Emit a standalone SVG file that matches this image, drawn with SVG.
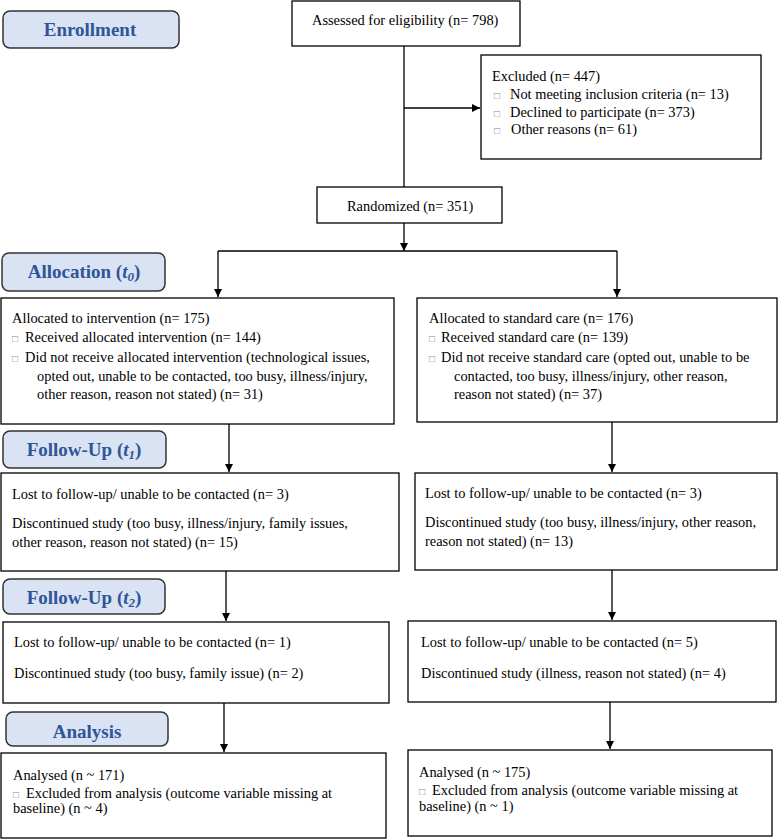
<svg xmlns="http://www.w3.org/2000/svg" width="780" height="839" viewBox="0 0 780 839">
<defs>
<marker id="ah" viewBox="0 0 10 10" refX="10" refY="5" markerWidth="8" markerHeight="8" markerUnits="userSpaceOnUse" orient="auto">
<path d="M0,0 L10,5 L0,10 z" fill="#000"/>
</marker>
<style>
.lab rect{fill:#dae3f3;stroke:#333;stroke-width:1.5}
.lab text{font-family:"Liberation Serif",serif;font-weight:bold;font-size:19px;fill:#2f5597;text-anchor:middle}
.box rect{fill:#fff;stroke:#000;stroke-width:1.3}
.box text{font-family:"Liberation Serif",serif;font-size:14.4px;fill:#000}
.box text.b{font-size:10px;fill:#888}
.conn path{fill:none;stroke:#000;stroke-width:1.3}
</style>
</defs>
<rect width="780" height="839" fill="#fff"/>
<g id="lab-enrollment" class="lab"><rect x="3" y="11" width="176" height="37" rx="7"/><text x="90" y="36">Enrollment</text></g>
<g id="lab-allocation" class="lab"><rect x="2" y="253" width="163" height="38" rx="7"/><text x="84" y="278">Allocation (<tspan font-style="italic">t</tspan><tspan font-style="italic" font-size="13" dy="3">0</tspan><tspan dy="-3">)</tspan></text></g>
<g id="lab-fu1" class="lab"><rect x="3" y="431" width="163" height="37" rx="7"/><text x="84" y="456">Follow-Up (<tspan font-style="italic">t</tspan><tspan font-style="italic" font-size="13" dy="3">1</tspan><tspan dy="-3">)</tspan></text></g>
<g id="lab-fu2" class="lab"><rect x="3" y="579" width="162" height="35" rx="7"/><text x="84" y="604">Follow-Up (<tspan font-style="italic">t</tspan><tspan font-style="italic" font-size="13" dy="3">2</tspan><tspan dy="-3">)</tspan></text></g>
<g id="lab-analysis" class="lab"><rect x="6" y="712" width="162" height="34" rx="7"/><text x="87" y="738">Analysis</text></g>

<g id="assessed" class="box"><rect x="292" y="1" width="228" height="45"/><text x="312" y="25">Assessed for eligibility (n= 798)</text></g>
<g id="excluded" class="box"><rect x="481" y="55" width="280" height="104"/>
<text x="492" y="81">Excluded (n= 447)</text>
<text x="494" y="99" class="b">□</text><text x="510" y="99">Not meeting inclusion criteria (n= 13)</text>
<text x="494" y="117" class="b">□</text><text x="510" y="117">Declined to participate (n= 373)</text>
<text x="494" y="134" class="b">□</text><text x="511" y="134">Other reasons (n= 61)</text>
</g>
<g id="randomized" class="box"><rect x="317" y="187" width="185" height="36"/><text x="347" y="211">Randomized (n= 351)</text></g>

<g id="alloc-left" class="box"><rect x="1" y="298" width="393" height="126"/>
<text x="12" y="323">Allocated to intervention (n= 175)</text>
<text x="12" y="342" class="b">□</text><text x="25" y="342">Received allocated intervention (n= 144)</text>
<text x="12" y="362" class="b">□</text><text x="25" y="362">Did not receive allocated intervention (technological issues,</text>
<text x="37" y="381">opted out, unable to be contacted, too busy, illness/injury,</text>
<text x="37" y="399">other reason, reason not stated) (n= 31)</text>
</g>
<g id="alloc-right" class="box"><rect x="417" y="298" width="360" height="124"/>
<text x="429" y="323">Allocated to standard care (n= 176)</text>
<text x="429" y="342" class="b">□</text><text x="441" y="342">Received standard care (n= 139)</text>
<text x="429" y="362" class="b">□</text><text x="441" y="362">Did not receive standard care (opted out, unable to be</text>
<text x="454" y="381">contacted, too busy, illness/injury, other reason,</text>
<text x="454" y="399">reason not stated) (n= 37)</text>
</g>

<g id="fu1-left" class="box"><rect x="1" y="473" width="398" height="98"/>
<text x="12" y="499">Lost to follow-up/ unable to be contacted (n= 3)</text>
<text x="12" y="528">Discontinued study (too busy, illness/injury, family issues,</text>
<text x="12" y="547">other reason, reason not stated) (n= 15)</text>
</g>
<g id="fu1-right" class="box"><rect x="415" y="473" width="362" height="97"/>
<text x="425" y="498">Lost to follow-up/ unable to be contacted (n= 3)</text>
<text x="425" y="527">Discontinued study (too busy, illness/injury, other reason,</text>
<text x="425" y="546">reason not stated) (n= 13)</text>
</g>

<g id="fu2-left" class="box"><rect x="3" y="622" width="386" height="81"/>
<text x="14" y="647">Lost to follow-up/ unable to be contacted (n= 1)</text>
<text x="14" y="678">Discontinued study (too busy, family issue) (n= 2)</text>
</g>
<g id="fu2-right" class="box"><rect x="408" y="621" width="368" height="81"/>
<text x="421" y="647">Lost to follow-up/ unable to be contacted (n= 5)</text>
<text x="421" y="678">Discontinued study (illness, reason not stated) (n= 4)</text>
</g>

<g id="an-left" class="box"><rect x="1" y="753" width="385" height="85"/>
<text x="13" y="780">Analysed (n ~ 171)</text>
<text x="13" y="798" class="b">□</text><text x="26" y="798">Excluded from analysis (outcome variable missing at</text>
<text x="13" y="813">baseline) (n ~ 4)</text>
</g>
<g id="an-right" class="box"><rect x="408" y="750" width="364" height="86"/>
<text x="419" y="777">Analysed (n ~ 175)</text>
<text x="419" y="795" class="b">□</text><text x="432" y="795">Excluded from analysis (outcome variable missing at</text>
<text x="419" y="811">baseline) (n ~ 1)</text>
</g>

<g id="connectors" class="conn">
<path d="M404,46 V187"/>
<path d="M404,108 H480" marker-end="url(#ah)"/>
<path d="M404,223 V251" marker-end="url(#ah)"/>
<path d="M218,251 H617"/>
<path d="M218,251 V297" marker-end="url(#ah)"/>
<path d="M617,251 V297" marker-end="url(#ah)"/>
<path d="M229,424 V472" marker-end="url(#ah)"/>
<path d="M612,422 V472" marker-end="url(#ah)"/>
<path d="M226,571 V621" marker-end="url(#ah)"/>
<path d="M612,570 V620" marker-end="url(#ah)"/>
<path d="M224,703 V752" marker-end="url(#ah)"/>
<path d="M610,702 V749" marker-end="url(#ah)"/>
</g>
</svg>
